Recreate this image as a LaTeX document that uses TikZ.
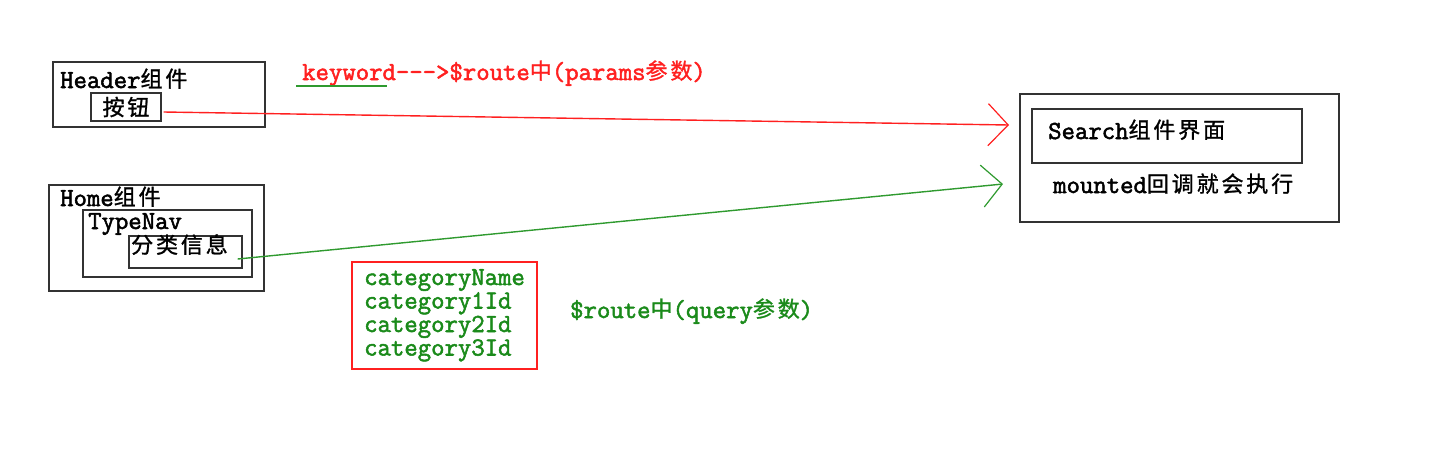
\documentclass[tikz,border=0pt]{standalone}
\usepackage{fontspec}
\newfontfamily\lat{Latin Modern Mono}[FakeBold=2]
\newfontfamily\cjk{Noto Sans CJK SC}[LetterSpace=13, FakeBold=1.2]
\usetikzlibrary{arrows.meta, positioning, calc}
\definecolor{notered}{HTML}{FF2020}
\definecolor{notegreen}{HTML}{1A8A1A}
\definecolor{linegreen}{HTML}{2F9A2F}
\definecolor{boxgray}{HTML}{333333}
\newcommand{\zh}[1]{{\cjk\fontsize{22}{26}\selectfont\raisebox{1pt}{#1}}}

\tikzset{
  box/.style={draw=boxgray, line width=1.3pt, inner sep=0pt},
  txt/.style={anchor=base west, inner sep=0pt, font=\lat\fontsize{26}{30}\selectfont},
  barb/.style={-{Straight Barb[length=20pt,width=42pt,line width=1.2pt]}}
}

\begin{document}
\begin{tikzpicture}[x=1pt, y=-1pt]
  \useasboundingbox (0,0) rectangle (1453,456);

  % Header component
  \node[box, minimum width=212pt, minimum height=65pt] (header) at (159,94.5) {};
  \node[txt] (headertxt) at (60,88) {Header\zh{组件}};
  \node[box, minimum width=70pt, minimum height=28pt] (btn) at (126,107) {\zh{按钮}};

  % Home component
  \node[box, minimum width=215pt, minimum height=106pt] (home) at (156.5,238) {};
  \node[txt] (hometxt) at (60,206) {Home\zh{组件}};
  \node[box, minimum width=169pt, minimum height=67pt] (typenav) at (167.5,243.5) {};
  \node[txt] (typenavtxt) at (88,229) {TypeNav};
  \node[box, minimum width=113pt, minimum height=32pt] (info) at (185.5,252) {};
  \node[txt] (infotxt) at (131,254) {\zh{分类信息}};

  % Search component
  \node[box, minimum width=319pt, minimum height=128pt] (search) at (1179.5,158) {};
  \node[box, minimum width=270pt, minimum height=54pt] (searchview) at (1167,136) {};
  \node[txt] (searchtxt) at (1048,139) {Search\zh{组件界面}};
  \node[txt] (mounted) at (1053,193) {mounted\zh{回调就会执行}};

  % params
  \node[txt, text=notered] (kw) at (302,80) {keyword--->\$route\zh{中}(params\zh{参数})};
  \draw[linegreen, line width=1.4pt] ($(kw.base west)+(-6,6)$) -- ++(91,0);

  % query
  \node[box, draw=notered, minimum width=185pt, minimum height=107pt] (catbox) at (444.5,315.5) {};
  \foreach \name [count=\i] in {categoryName,category1Id,category2Id,category3Id}
    \node[txt, text=notegreen] (cat\i) at (364,261.5+23.5*\i) {\name};
  \node[txt, text=notegreen] (query) at (570,318) {\$route\zh{中}(query\zh{参数})};

  % routes
  \coordinate (redtip) at (1009,125);
  \coordinate (greentip) at (1003,184);
  \draw[notered, line width=1.4pt, barb] ($(btn.east)+(2,5)$) -- (redtip);
  \draw[linegreen, line width=1.4pt, barb] ($(info.east)+(-5,7)$) -- (greentip);
\end{tikzpicture}
\end{document}
